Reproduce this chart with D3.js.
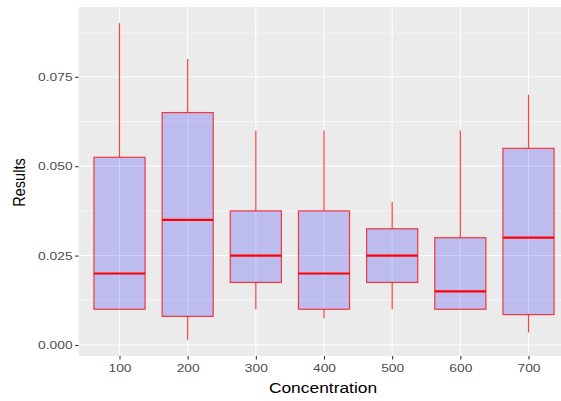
<!DOCTYPE html>
<html>
<head>
<meta charset="utf-8">
<script src="https://cdn.jsdelivr.net/npm/d3@7"></script>
<style>
  body { margin: 0; background: #fff; }
  text { font-family: "Liberation Sans", Arial, sans-serif; }
</style>
</head>
<body>
<svg id="chart" width="561" height="401"></svg>
<script>
// boxplot stats
const concentrations = ["100", "200", "300", "400", "500", "600", "700"];
const whiskerLow  = [0.010, 0.0015, 0.010, 0.0075, 0.010, 0.010, 0.0035];
const q1          = [0.010, 0.008, 0.0175, 0.010, 0.0175, 0.010, 0.0085];
const medians     = [0.020, 0.035, 0.025, 0.020, 0.025, 0.015, 0.030];
const q3          = [0.0525, 0.065, 0.0375, 0.0375, 0.0325, 0.030, 0.055];
const whiskerHigh = [0.090, 0.080, 0.060, 0.060, 0.040, 0.060, 0.070];
const yTicks = [0, 0.025, 0.05, 0.075];
const yMinor = [0.0125, 0.0375, 0.0625, 0.0875];

const data = concentrations.map((c, i) => ({
  name: c, lo: whiskerLow[i], q1: q1[i], med: medians[i], q3: q3[i], hi: whiskerHigh[i]
}));

const svg = d3.select("#chart");
const panel = { left: 78.6, right: 569.4, top: 7, bottom: 356 };
const SX = 1.2; // the picture is a bit stretched sideways

// ggplot-style discrete expansion: 0.6 units each side
const x = d3.scalePoint()
  .domain(concentrations)
  .range([panel.left, panel.right])
  .padding(0.6);
const step = x.step();
const boxW = step * 0.75;

const y = d3.scaleLinear()
  .domain([0, 0.025])
  .range([345, 345 - 89.4]);

svg.append("rect")
  .attr("x", panel.left).attr("y", panel.top)
  .attr("width", panel.right - panel.left)
  .attr("height", panel.bottom - panel.top)
  .attr("fill", "#EBEBEB");

const grid = svg.append("g");
grid.selectAll(".minor").data(yMinor).join("line")
  .attr("x1", panel.left).attr("x2", panel.right)
  .attr("y1", d => y(d)).attr("y2", d => y(d))
  .attr("stroke", "#fff").attr("stroke-width", 0.55);
grid.selectAll(".major").data(yTicks).join("line")
  .attr("x1", panel.left).attr("x2", panel.right)
  .attr("y1", d => y(d)).attr("y2", d => y(d))
  .attr("stroke", "#fff").attr("stroke-width", 1.1);
grid.selectAll(".vmajor").data(concentrations).join("line")
  .attr("x1", d => x(d)).attr("x2", d => x(d))
  .attr("y1", panel.top).attr("y2", panel.bottom)
  .attr("stroke", "#fff").attr("stroke-width", 1.1);

const boxes = svg.append("g").selectAll("g").data(data).join("g");

boxes.append("line")
  .attr("x1", d => x(d.name)).attr("x2", d => x(d.name))
  .attr("y1", d => y(d.hi)).attr("y2", d => y(d.q3))
  .attr("stroke", "red").attr("stroke-opacity", 0.75).attr("stroke-width", 1.2);
boxes.append("line")
  .attr("x1", d => x(d.name)).attr("x2", d => x(d.name))
  .attr("y1", d => y(d.q1)).attr("y2", d => y(d.lo))
  .attr("stroke", "red").attr("stroke-opacity", 0.75).attr("stroke-width", 1.2);
boxes.append("rect")
  .attr("x", d => x(d.name) - boxW / 2)
  .attr("y", d => y(d.q3))
  .attr("width", boxW)
  .attr("height", d => y(d.q1) - y(d.q3))
  .attr("fill", "blue").attr("fill-opacity", 0.2)
  .attr("stroke", "red").attr("stroke-opacity", 0.75).attr("stroke-width", 1.2);
boxes.append("line")
  .attr("x1", d => x(d.name) - boxW / 2).attr("x2", d => x(d.name) + boxW / 2)
  .attr("y1", d => y(d.med)).attr("y2", d => y(d.med))
  .attr("stroke", "red").attr("stroke-width", 2.2);

// axes
const yAxis = svg.append("g")
  .attr("transform", `translate(${panel.left},0)`)
  .call(d3.axisLeft(y).tickValues(yTicks).tickFormat(d3.format(".3f")).tickSize(3.5).tickPadding(2.5));
const xAxis = svg.append("g")
  .attr("transform", `translate(0,${panel.bottom})`)
  .call(d3.axisBottom(x).tickSize(3.5).tickPadding(4));
[xAxis, yAxis].forEach(a => {
  a.select(".domain").remove();
  a.selectAll(".tick line").attr("stroke", "#333").attr("stroke-width", 1.1);
  a.selectAll(".tick text").attr("fill", "#4D4D4D")
    .style("font-size", "11.5px").style("font-family", "'Liberation Sans', Arial, sans-serif")
    .each(function() {
      const t = d3.select(this);
      const tx = +t.attr("x") || 0, ty = +t.attr("y") || 0;
      t.attr("x", 0).attr("y", 0).attr("transform", `translate(${tx},${ty}) scale(${SX},1)`);
    });
});

svg.append("text")
  .attr("transform", `translate(${(panel.left + panel.right) / 2 - 1},393) scale(${SX},1)`)
  .attr("text-anchor", "middle")
  .style("font-size", "14.5px")
  .text("Concentration");

svg.append("text")
  .attr("transform", `translate(24.5,${(panel.top + panel.bottom) / 2 + 1}) scale(${SX},1) rotate(-90)`)
  .attr("text-anchor", "middle")
  .style("font-size", "14.5px")
  .text("Results");
</script>
</body>
</html>
